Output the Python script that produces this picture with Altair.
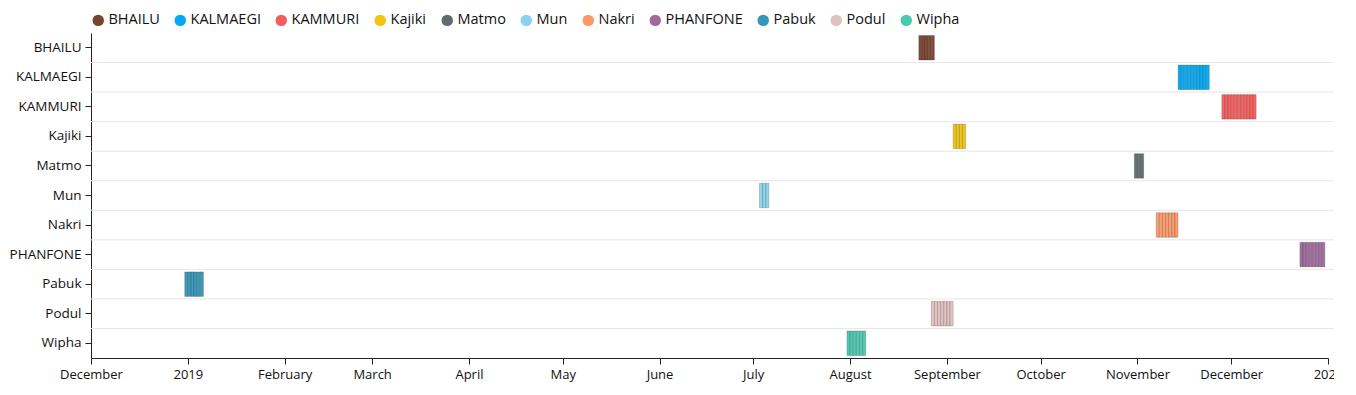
import altair as alt
import pandas as pd

# Storm names (legend / y order)
names = ["BHAILU", "KALMAEGI", "KAMMURI", "Kajiki", "Matmo", "Mun",
         "Nakri", "PHANFONE", "Pabuk", "Podul", "Wipha"]
# first day and day after the last day of each storm
starts = ["2019-08-23", "2019-11-14", "2019-11-28", "2019-09-03", "2019-10-31", "2019-07-03",
          "2019-11-07", "2019-12-23", "2018-12-31", "2019-08-27", "2019-07-31"]
ends = ["2019-08-28", "2019-11-24", "2019-12-09", "2019-09-07", "2019-11-03", "2019-07-06",
        "2019-11-14", "2019-12-31", "2019-01-06", "2019-09-03", "2019-08-06"]
colors = ["#78432f", "#03a9f4", "#f75c5c", "#f1c40f", "#5f6b6d", "#89d3ee",
          "#fc9867", "#9f6b9c", "#3596b8", "#e2c0c0", "#48c9b0"]

rows = []
for n, s, e in zip(names, starts, ends):
    for d in pd.date_range(s, e, inclusive="left"):
        rows.append({"name": n,
                     "day": d.strftime("%Y-%m-%dT00:00:00"),
                     "next": (d + pd.Timedelta(days=1)).strftime("%Y-%m-%dT00:00:00")})
days = pd.DataFrame(rows)
grid = pd.DataFrame({"name": names[1:]})

FONT = "Open Sans"
W, H = 1237, 325

yscale = alt.Scale(domain=names, paddingInner=0, paddingOuter=0)

gridlines = alt.Chart(grid).mark_rule(color="#e6e6e6", strokeWidth=1).encode(
    y=alt.Y("name:N", bandPosition=0, scale=yscale, sort=names,
            axis=alt.Axis(title=None, grid=False, domainColor="#222", tickColor="#222",
                          tickSize=6, labelPadding=4, labelFontSize=13.5, labelColor="#111",
                          labelFont=FONT)),
    x=alt.value(0),
    x2=alt.value(W + 7),
)

bars = alt.Chart(days).mark_bar(
    height=alt.RelativeBandSize(0.83), stroke="#000", strokeOpacity=0.18,
    strokeWidth=1, cornerRadius=0, opacity=0.95
).encode(
    x=alt.X("day:T", title=None,
            scale=alt.Scale(domain=[alt.DateTime(year=2018, month=12, date=1),
                                    alt.DateTime(year=2020, month=1, date=1)]),
            axis=alt.Axis(tickCount="month", grid=False, labelFlush=False,
                          domainColor="#222", tickColor="#222", tickSize=6,
                          labelPadding=4, labelFontSize=13, labelColor="#111",
                          labelFont=FONT, labelOverlap=False)),
    x2="next:T",
    y=alt.Y("name:N", scale=yscale, sort=names),
    color=alt.Color("name:N",
                    scale=alt.Scale(domain=names, range=colors),
                    legend=alt.Legend(title=None, orient="none", direction="horizontal",
                                      legendX=0, legendY=-20, symbolType="circle",
                                      symbolSize=130, symbolOpacity=1, symbolStrokeWidth=0,
                                      labelFontSize=14.5,
                                      labelFont=FONT, labelColor="#111", labelOffset=3,
                                      columnPadding=13, columns=11)),
)

chart = alt.layer(gridlines, bars).properties(
    width=W, height=H,
    autosize=alt.AutoSizeParams(type="none"),
    padding={"left": 83, "top": 25, "right": 6, "bottom": 37},
).configure_view(stroke=None)

chart.save("out.html", embed_options={"renderer": "svg", "actions": False})
